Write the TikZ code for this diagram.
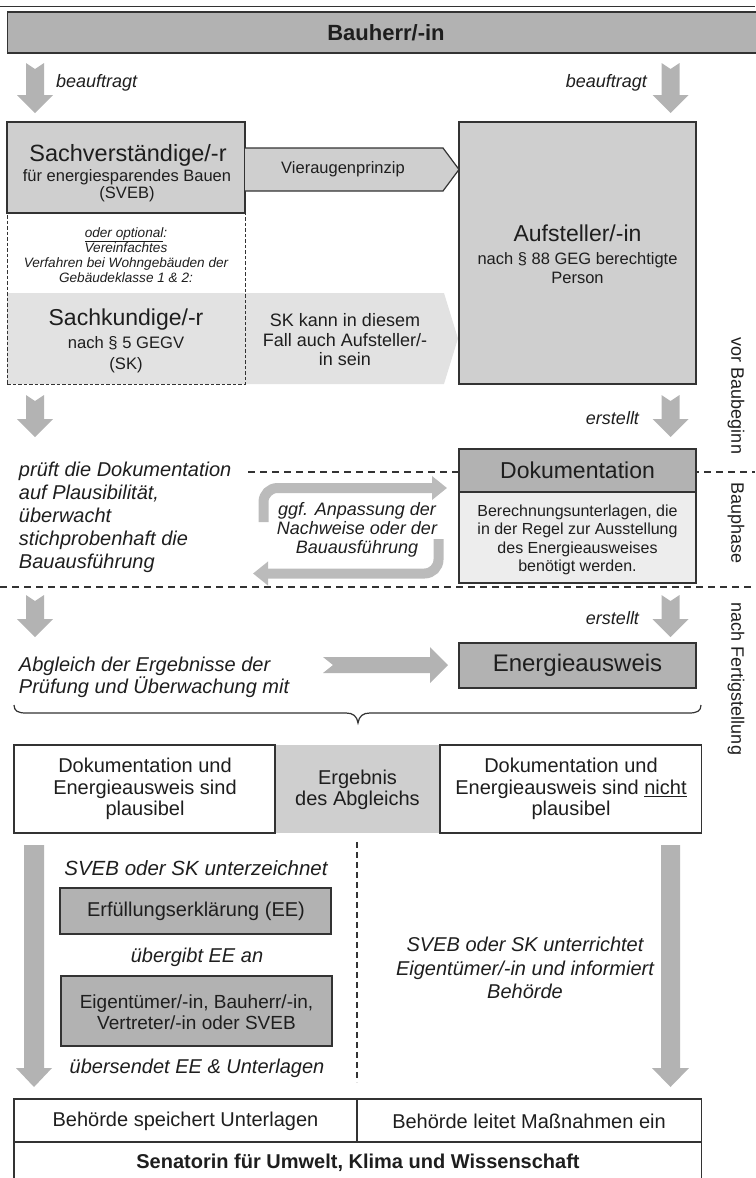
\documentclass[tikz,border=0pt]{standalone}
\usepackage{fontspec}
\setmainfont{Liberation Sans}
\usetikzlibrary{calc,arrows.meta}
\definecolor{hdr}{HTML}{B2B2B2}
\definecolor{lgt}{HTML}{CFCFCF}
\definecolor{vlgt}{HTML}{E2E2E2}
\definecolor{bodyc}{HTML}{EDEDED}
\definecolor{arr}{HTML}{B3B3B3}
\definecolor{farr}{HTML}{BBBBBB}
\definecolor{ln}{HTML}{333333}
\definecolor{txt}{HTML}{1E1E1E}
\newcommand\fsz[2]{\fontsize{#1}{#2}\selectfont}
% block arrow pointing down: #1 top coord, #2 tip coord, #3 shaft half, #4 head half, #5 head length, #6 notch depth
\newcommand\BlockDown[6]{%
  \fill[arr] let \p1=(#1), \p2=(#2) in
    (\x1-#3pt,\y1) -- (\x1,\y1-#6pt) -- (\x1+#3pt,\y1) -- (\x1+#3pt,\y2+#5pt)
    -- (\x1+#4pt,\y2+#5pt) -- (\x2,\y2) -- (\x1-#4pt,\y2+#5pt) -- (\x1-#3pt,\y2+#5pt) -- cycle;}
\begin{document}
\begin{tikzpicture}[x=1pt,y=-1pt,
  every node/.style={inner sep=0pt,outer sep=0pt,text=txt},
  box/.style={draw=ln,line width=1.2pt},
  dashline/.style={draw=ln,line width=1.2pt,dash pattern=on 7pt off 5pt},
  big/.style={font=\fsz{23.5}{26}},
  small/.style={font=\fsz{16.5}{19},align=center},
  itl/.style={font=\fsz{18}{20}\itshape},
  itb/.style={font=\fsz{20}{23}\itshape},
  norm/.style={font=\fsz{20}{21.5},align=center},
  fback/.style={draw=farr,line width=10pt,rounded corners=14pt,-{Triangle[width=23pt,length=15pt]}},
  side/.style={font=\fsz{18}{20},rotate=-90}
]
\useasboundingbox (0,0) rectangle (755,1178);

% top rule and header
\draw[ln,line width=1pt] (0,6.7) -- (755,6.7);
\node[box,fill=hdr,anchor=north west,minimum width=760,minimum height=41] (bh) at (7.5,12) {};
\node[font=\fsz{22}{26}\bfseries] (bht) at (386,32.5) {Bauherr/-in};

% beauftragt arrows
\coordinate (a1lt) at (35,63);   \coordinate (a1lb) at (35,113);
\coordinate (a1rt) at (670.5,63);\coordinate (a1rb) at (670.5,113);
\BlockDown{a1lt}{a1lb}{9}{18}{18}{6}
\BlockDown{a1rt}{a1rb}{9}{18}{18}{6}
\node[itl,anchor=west] (bl) at (56,83) {beauftragt};
\node[itl,anchor=east] (br) at (647,83) {beauftragt};

% SK light region (optional path arrow)
\fill[vlgt] (7,293) -- (444,293) -- (458,338.5) -- (444,384) -- (7,384) -- cycle;
\node[draw=ln,line width=1pt,dash pattern=on 3.5pt off 2pt,anchor=north west,minimum width=238,minimum height=171] (skbox) at (7,213) {};

% Sachverstaendige
\node[box,fill=lgt,anchor=north west,minimum width=238,minimum height=91] (sv) at (7,122) {};
\node[big] (svt) at (128,155) {Sachverständige/-r};
\node[small,font=\fsz{16.5}{17}] (svs) at (127,185.5) {für energiesparendes Bauen\\(SVEB)};

% Vieraugenprinzip arrow
\draw[ln,line width=1.2pt,fill=lgt] (245,148) -- (443,148) -- (459,169.5) -- (443,191) -- (245,191);
\node[font=\fsz{16.5}{19}] (vap) at (343,169.5) {Vieraugenprinzip};

% optional text
\node[align=center,font=\fsz{13.6}{15}\itshape] (opt) at (126,255) {\underline{oder optional}:\\Vereinfachtes\\Verfahren bei Wohngebäuden der\\Gebäudeklasse 1 \& 2:};

% Sachkundige
\node[big,font=\fsz{23}{26}] (skt) at (126,320) {Sachkundige/-r};
\node[small,font=\fsz{16.6}{21}] (sks) at (126,355) {nach § 5 GEGV\\(SK)};
\node[align=center,font=\fsz{18}{19.5}] (skx) at (345,340) {SK kann in diesem\\Fall auch Aufsteller/-\\in sein};

% Aufsteller
\node[box,fill=lgt,anchor=north west,minimum width=237,minimum height=262] (auf) at (459,122) {};
\node[big,font=\fsz{23}{26}] (auft) at (577.5,233) {Aufsteller/-in};
\node[small] (aufs) at (577.5,268) {nach § 88 GEG berechtigte\\Person};

% arrows row 2
\coordinate (a2lt) at (35,395);   \coordinate (a2lb) at (35,437);
\coordinate (a2rt) at (670.5,395);\coordinate (a2rb) at (670.5,437);
\BlockDown{a2lt}{a2lb}{9}{18}{18}{6}
\BlockDown{a2rt}{a2rb}{9}{18}{18}{6}
\node[itl,anchor=east] (er1) at (639,418) {erstellt};

% phase dashed lines
\draw[dashline] (248,472) -- (755,472);
\draw[dashline] (0,587) -- (755,587);

% Dokumentation
\node[box,fill=hdr,anchor=north west,minimum width=237,minimum height=43] (dokh) at (459,449) {};
\node[box,fill=bodyc,anchor=north west,minimum width=237,minimum height=91] (dokb) at (459,492) {};
\node[big,font=\fsz{23}{26}] (dokt) at (577.5,470.5) {Dokumentation};
\node[align=center,font=\fsz{16}{18.3}] (doks) at (577.5,540) {Berechnungsunterlagen, die\\in der Regel zur Ausstellung\\des Energieausweises\\benötigt werden.};

% left italic text
\node[itb,align=left,anchor=west] (pruef) at (19,517) {prüft die Dokumentation\\auf Plausibilität,\\überwacht\\stichprobenhaft die\\Bauausführung};

% feedback arrows
\coordinate (f1s) at (263.5,522); \coordinate (f1e) at (447,488);
\coordinate (f2s) at (438.5,539); \coordinate (f2e) at (253,573.5);
\draw[fback] (f1s) |- (f1e);
\draw[fback] (f2s) |- (f2e);
\node[align=center,font=\fsz{18}{19}\itshape] (ggf) at (357,530) {ggf. Anpassung der\\Nachweise oder der\\Bauausführung};

% arrows row 3
\coordinate (a3lt) at (35,595);   \coordinate (a3lb) at (35,637);
\coordinate (a3rt) at (670.5,595);\coordinate (a3rb) at (670.5,637);
\BlockDown{a3lt}{a3lb}{9}{18}{18}{6}
\BlockDown{a3rt}{a3rb}{9}{18}{18}{6}
\node[itl,anchor=east] (er2) at (639,618) {erstellt};

% Abgleich
\node[itb,align=left,anchor=west,font=\fsz{20}{22}\itshape] (abg) at (19,677) {Abgleich der Ergebnisse der\\Prüfung und Überwachung mit};
\node[box,fill=hdr,anchor=north west,minimum width=237,minimum height=45] (ea) at (459,643) {};
\node[big,font=\fsz{24}{26}] (eat) at (577.5,665.5) {Energieausweis};
\coordinate (bas) at (323,665); \coordinate (bae) at (448,665);
\fill[arr] let \p1=(bas), \p2=(bae) in
  (\x1,\y1+8pt) -- (\x2-18pt,\y1+8pt) -- (\x2-18pt,\y1+18pt) -- (\x2,\y2)
  -- (\x2-18pt,\y1-18pt) -- (\x2-18pt,\y1-8pt) -- (\x1,\y1-8pt) -- (\x1+10pt,\y1) -- cycle;

% brace
\draw[ln,line width=1.2pt] (14,705) .. controls (14,711) and (18,713) .. (26,713) -- (346,713)
  .. controls (353,713) and (357,716) .. (358,723) .. controls (359,716) and (363,713) .. (370,713)
  -- (689,713) .. controls (697,713) and (701,711) .. (701,705);

% result boxes
\node[fill=lgt,anchor=north west,minimum width=165,minimum height=88] (erg) at (275,745) {};
\node[box,fill=white,anchor=north west,minimum width=261,minimum height=88] (pl) at (14,745) {};
\node[box,fill=white,anchor=north west,minimum width=261.5,minimum height=88] (npl) at (440,745) {};
\node[norm] (plt) at (145,789) {Dokumentation und\\Energieausweis sind\\plausibel};
\node[norm,font=\fsz{20}{20.5}] (ergt) at (357.5,790) {Ergebnis\\des Abgleichs};
\node[norm] (nplt) at (571,789) {Dokumentation und\\Energieausweis sind \underline{nicht}\\plausibel};

% split line
\draw[ln,line width=1.2pt,dash pattern=on 6pt off 4pt] (357,842) -- (357,1082);

% long arrows
\coordinate (a4lt) at (34,845);   \coordinate (a4lb) at (34,1087);
\coordinate (a4rt) at (670.5,845);\coordinate (a4rb) at (670.5,1087);
\BlockDown{a4lt}{a4lb}{10}{18}{19}{0}
\BlockDown{a4rt}{a4rb}{9.5}{18.5}{19}{0}

% left branch
\node[font=\fsz{20.5}{22}\itshape] (unt) at (196,868) {SVEB oder SK unterzeichnet};
\node[box,fill=hdr,anchor=north west,minimum width=271,minimum height=46] (ee) at (60,888) {};
\node[font=\fsz{20}{22}] (eet) at (196,911) {Erfüllungserklärung (EE)};
\node[font=\fsz{20}{22}\itshape] (ueb) at (197,957) {übergibt EE an};
\node[box,fill=hdr,anchor=north west,minimum width=271,minimum height=70] (eig) at (61,976) {};
\node[align=center,font=\fsz{19}{21}] (eigt) at (196.5,1012.5) {Eigentümer/-in, Bauherr/-in,\\Vertreter/-in oder SVEB};
\node[font=\fsz{20}{22}\itshape] (ues) at (197,1068) {übersendet EE \& Unterlagen};

% right branch
\node[align=center,font=\fsz{20}{23.5}\itshape] (inf) at (525,968) {SVEB oder SK unterrichtet\\Eigentümer/-in und informiert\\Behörde};

% bottom table
\node[box,anchor=north west,minimum width=343,minimum height=43] (c1) at (14,1099) {};
\node[box,anchor=north west,minimum width=344.5,minimum height=43] (c2) at (357,1099) {};
\node[box,anchor=north west,minimum width=687.5,minimum height=60] (c3) at (14,1142) {};
\node[font=\fsz{20}{22}] (c1t) at (185.5,1121) {Behörde speichert Unterlagen};
\node[font=\fsz{20}{22}] (c2t) at (529,1121) {Behörde leitet Maßnahmen ein};
\node[font=\fsz{20}{22}\bfseries] (c3t) at (358,1163) {Senatorin für Umwelt, Klima und Wissenschaft};

% phase labels
\node[side] (p1) at (736,396) {vor Baubeginn};
\node[side] (p2) at (736,523) {Bauphase};
\node[side] (p3) at (736,679) {nach Fertigstellung};
\end{tikzpicture}
\end{document}
